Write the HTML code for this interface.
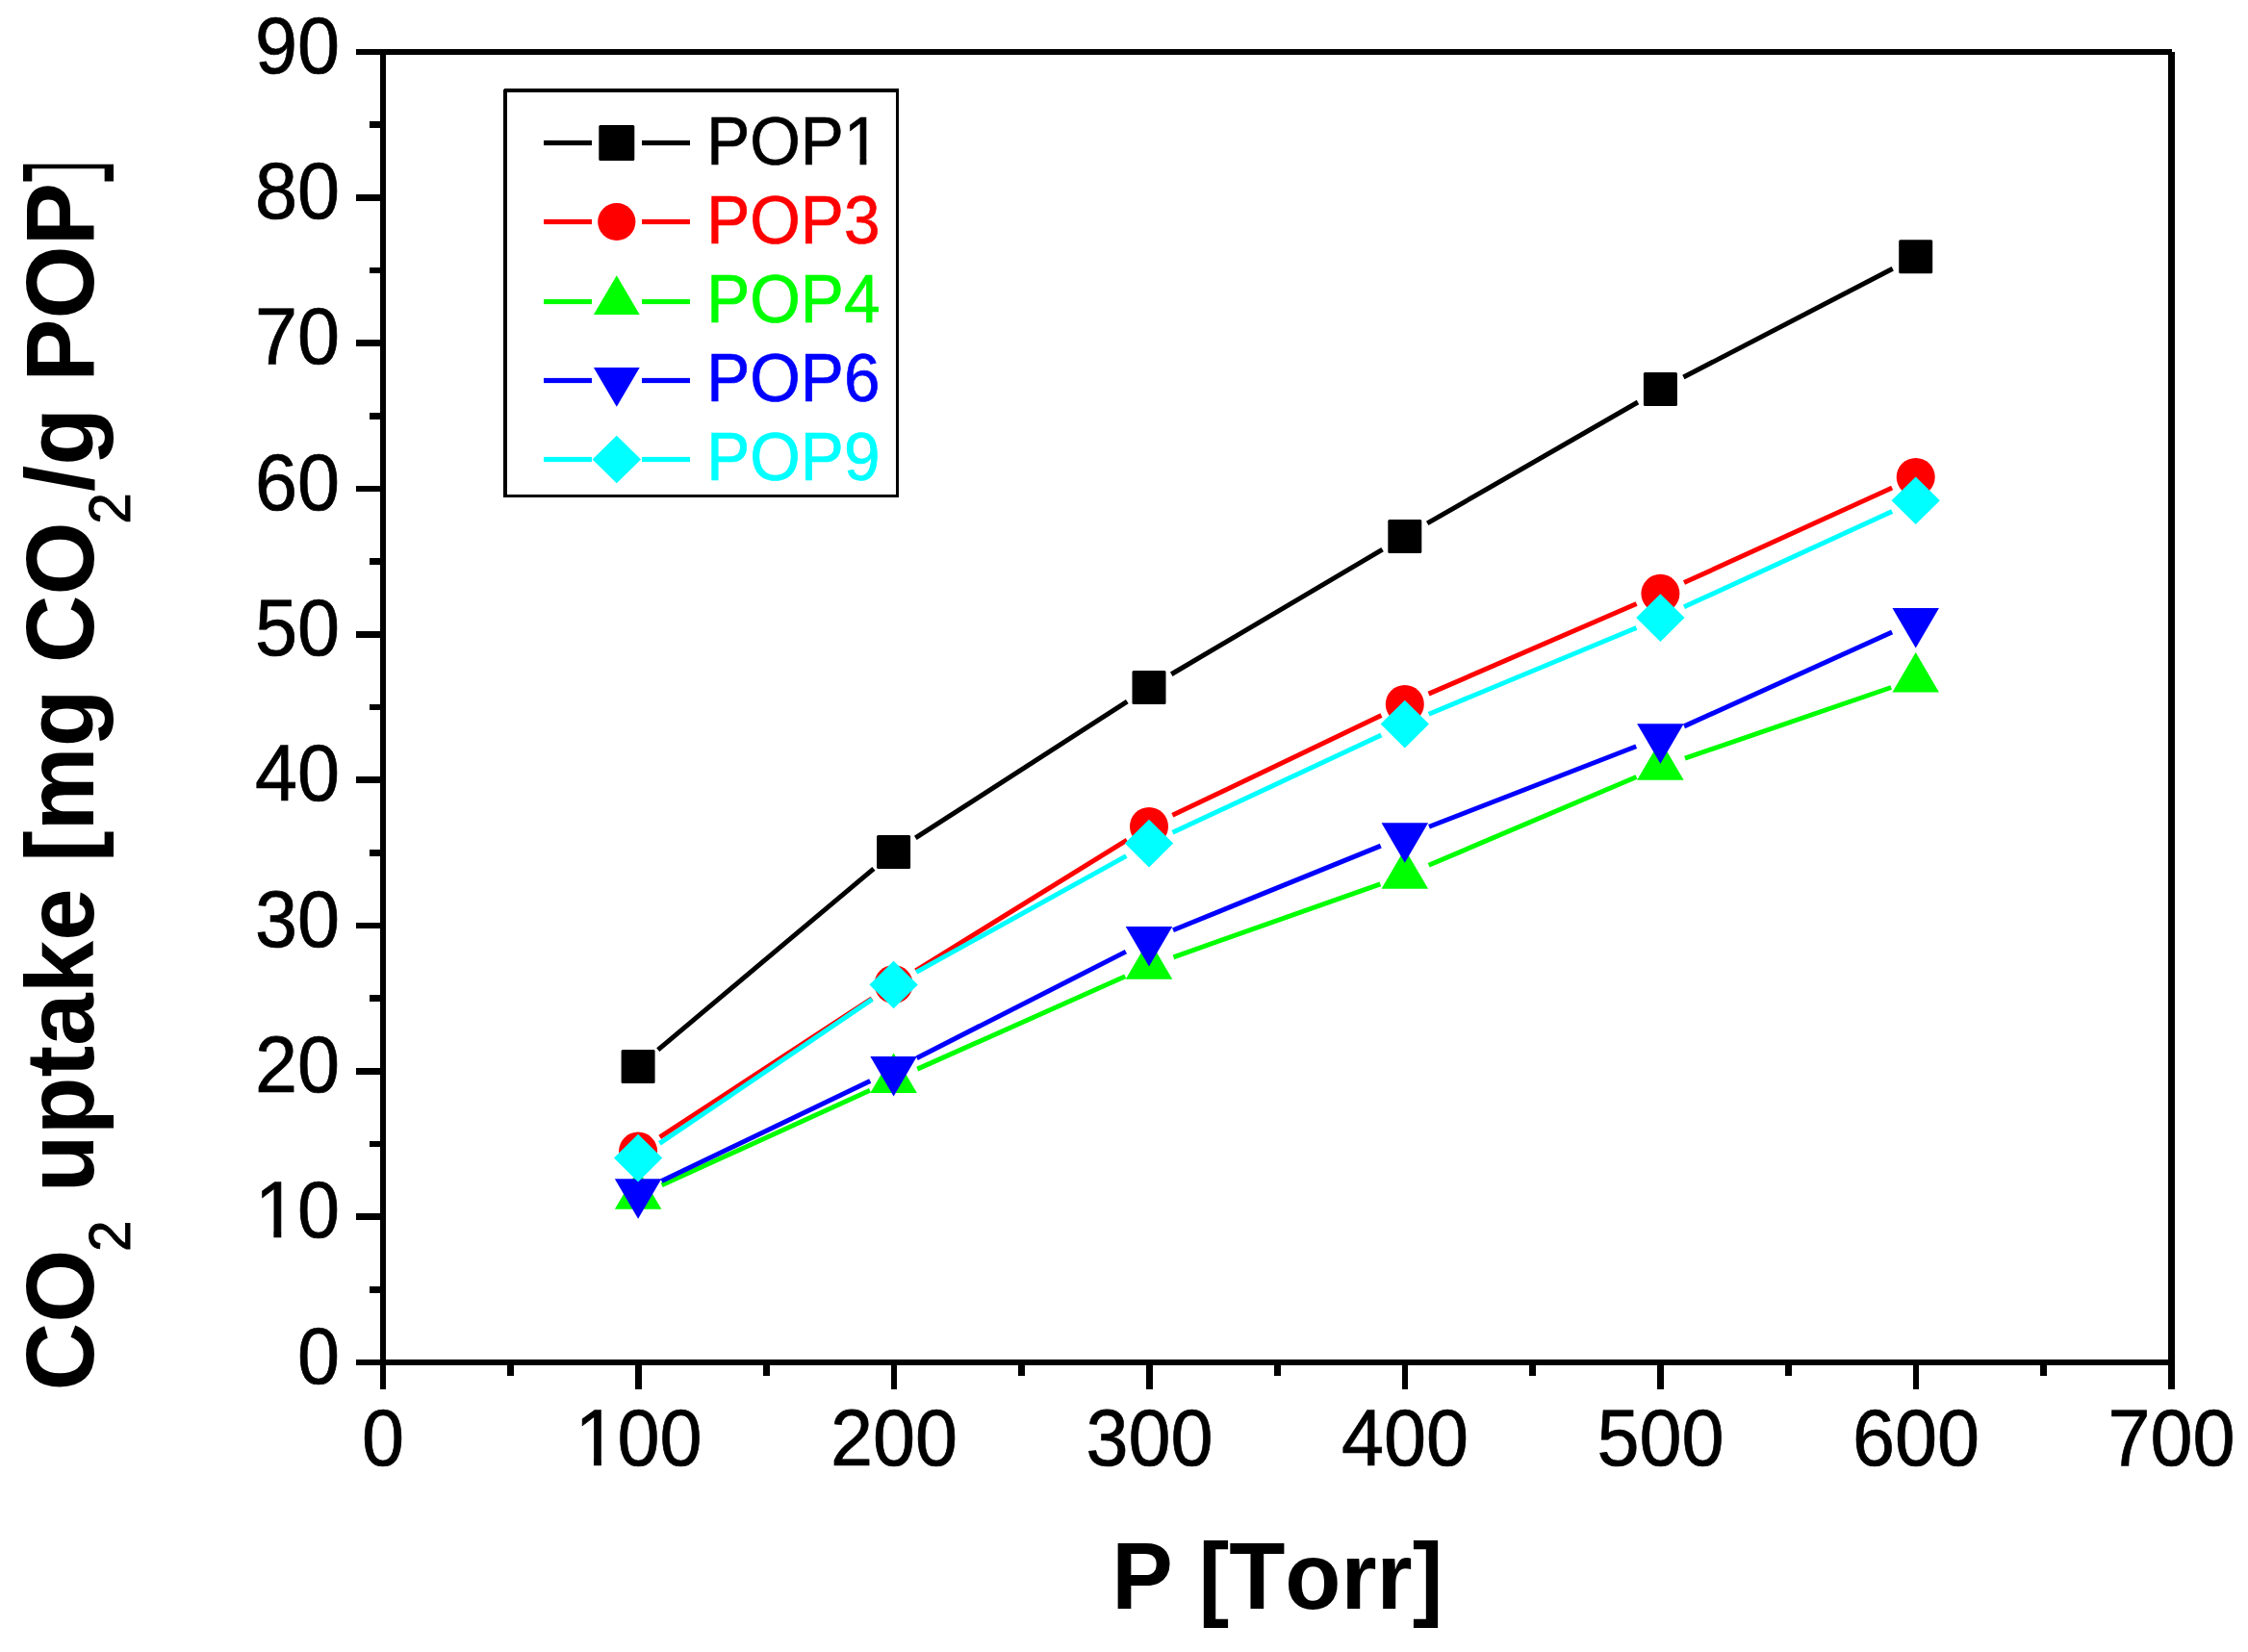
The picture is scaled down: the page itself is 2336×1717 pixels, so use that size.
<!DOCTYPE html>
<html lang="en"><head><meta charset="utf-8"><title>CO2 uptake vs P</title>
<style>
html,body{margin:0;padding:0;background:#fff;}
body{width:2336px;height:1717px;overflow:hidden;}
svg{display:block;}
text{font-family:"Liberation Sans",sans-serif;font-kerning:none;}
.tk{font-size:82.8px;fill:#000;stroke:#000;stroke-width:0.7px;}
.lg{font-size:69.8px;stroke-width:0.7px;}
.ttl{font-weight:bold;fill:#000;}
</style></head><body>
<svg width="2336" height="1717" viewBox="0 0 2336 1717">
<rect x="0" y="0" width="2336" height="1717" fill="#fff"/>
<g shape-rendering="crispEdges">
<rect x="395.10" y="54.00" width="6.00" height="1390.00" fill="#000"/>
<rect x="370.10" y="1413.00" width="1886.40" height="6.00" fill="#000"/>
<rect x="370.10" y="51.00" width="1886.80" height="6.00" fill="#000"/>
<rect x="2253.00" y="54.00" width="7.00" height="1390.00" fill="#000"/>
<rect x="384.10" y="1336.93" width="14.00" height="6.80" fill="#000"/>
<rect x="370.10" y="1261.27" width="28.00" height="6.80" fill="#000"/>
<rect x="384.10" y="1185.60" width="14.00" height="6.80" fill="#000"/>
<rect x="370.10" y="1109.93" width="28.00" height="6.80" fill="#000"/>
<rect x="384.10" y="1034.27" width="14.00" height="6.80" fill="#000"/>
<rect x="370.10" y="958.60" width="28.00" height="6.80" fill="#000"/>
<rect x="384.10" y="882.93" width="14.00" height="6.80" fill="#000"/>
<rect x="370.10" y="807.27" width="28.00" height="6.80" fill="#000"/>
<rect x="384.10" y="731.60" width="14.00" height="6.80" fill="#000"/>
<rect x="370.10" y="655.93" width="28.00" height="6.80" fill="#000"/>
<rect x="384.10" y="580.27" width="14.00" height="6.80" fill="#000"/>
<rect x="370.10" y="504.60" width="28.00" height="6.80" fill="#000"/>
<rect x="384.10" y="428.93" width="14.00" height="6.80" fill="#000"/>
<rect x="370.10" y="353.27" width="28.00" height="6.80" fill="#000"/>
<rect x="384.10" y="277.60" width="14.00" height="6.80" fill="#000"/>
<rect x="370.10" y="201.93" width="28.00" height="6.80" fill="#000"/>
<rect x="384.10" y="126.27" width="14.00" height="6.80" fill="#000"/>
<rect x="527.44" y="1416.00" width="6.80" height="14.00" fill="#000"/>
<rect x="660.19" y="1416.00" width="6.80" height="28.00" fill="#000"/>
<rect x="792.93" y="1416.00" width="6.80" height="14.00" fill="#000"/>
<rect x="925.67" y="1416.00" width="6.80" height="28.00" fill="#000"/>
<rect x="1058.41" y="1416.00" width="6.80" height="14.00" fill="#000"/>
<rect x="1191.16" y="1416.00" width="6.80" height="28.00" fill="#000"/>
<rect x="1323.90" y="1416.00" width="6.80" height="14.00" fill="#000"/>
<rect x="1456.64" y="1416.00" width="6.80" height="28.00" fill="#000"/>
<rect x="1589.39" y="1416.00" width="6.80" height="14.00" fill="#000"/>
<rect x="1722.13" y="1416.00" width="6.80" height="28.00" fill="#000"/>
<rect x="1854.87" y="1416.00" width="6.80" height="14.00" fill="#000"/>
<rect x="1987.61" y="1416.00" width="6.80" height="28.00" fill="#000"/>
<rect x="2120.36" y="1416.00" width="6.80" height="14.00" fill="#000"/>
</g>
<text class="tk" transform="translate(353.00 1437.60) scale(0.9565 1)" text-anchor="end">0</text>
<text class="tk" transform="translate(353.00 1286.27) scale(0.9565 1)" text-anchor="end">10</text>
<text class="tk" transform="translate(353.00 1134.93) scale(0.9565 1)" text-anchor="end">20</text>
<text class="tk" transform="translate(353.00 983.60) scale(0.9565 1)" text-anchor="end">30</text>
<text class="tk" transform="translate(353.00 832.27) scale(0.9565 1)" text-anchor="end">40</text>
<text class="tk" transform="translate(353.00 680.93) scale(0.9565 1)" text-anchor="end">50</text>
<text class="tk" transform="translate(353.00 529.60) scale(0.9565 1)" text-anchor="end">60</text>
<text class="tk" transform="translate(353.00 378.27) scale(0.9565 1)" text-anchor="end">70</text>
<text class="tk" transform="translate(353.00 226.93) scale(0.9565 1)" text-anchor="end">80</text>
<text class="tk" transform="translate(353.00 75.60) scale(0.9565 1)" text-anchor="end">90</text>
<rect x="269.74" y="1278.98" width="14.63" height="8.49" fill="#fff"/>
<rect x="292.27" y="1278.98" width="14.01" height="8.49" fill="#fff"/>
<text class="tk" transform="translate(398.10 1523.00) scale(0.9565 1)" text-anchor="middle">0</text>
<text class="tk" transform="translate(663.59 1523.00) scale(0.9565 1)" text-anchor="middle">100</text>
<text class="tk" transform="translate(929.07 1523.00) scale(0.9565 1)" text-anchor="middle">200</text>
<text class="tk" transform="translate(1194.56 1523.00) scale(0.9565 1)" text-anchor="middle">300</text>
<text class="tk" transform="translate(1460.04 1523.00) scale(0.9565 1)" text-anchor="middle">400</text>
<text class="tk" transform="translate(1725.53 1523.00) scale(0.9565 1)" text-anchor="middle">500</text>
<text class="tk" transform="translate(1991.01 1523.00) scale(0.9565 1)" text-anchor="middle">600</text>
<text class="tk" transform="translate(2256.50 1523.00) scale(0.9565 1)" text-anchor="middle">700</text>
<rect x="602.35" y="1515.71" width="14.63" height="8.49" fill="#fff"/>
<rect x="624.88" y="1515.71" width="14.01" height="8.49" fill="#fff"/>
<text class="ttl" transform="translate(1327.40 1671.80) scale(0.9626 1)" text-anchor="middle" font-size="99">P [Torr]</text>
<clipPath id="ytclip"><rect x="0" y="170.7" width="200" height="1400"/></clipPath>
<g clip-path="url(#ytclip)"><text class="ttl" transform="translate(96.80 1445.50) rotate(-90) scale(0.9703 1)" font-size="101" xml:space="preserve">CO<tspan font-weight="normal" font-size="60.5" dy="38" dx="-2.5" stroke="#000" stroke-width="0.9">2</tspan><tspan dy="-38" dx="2"> uptake [mg CO</tspan><tspan font-weight="normal" font-size="60.5" dy="38" dx="-2.5" stroke="#000" stroke-width="0.9">2</tspan><tspan dy="-38" dx="1">/g POP]</tspan></text></g>
<g>
<line x1="683.77" y1="1091.13" x2="907.93" y2="902.87" stroke="#000000" stroke-width="5"/>
<line x1="951.30" y1="870.88" x2="1171.30" y2="729.12" stroke="#000000" stroke-width="5"/>
<line x1="1217.24" y1="700.76" x2="1436.56" y2="571.14" stroke="#000000" stroke-width="5"/>
<line x1="1483.20" y1="543.93" x2="1702.00" y2="417.97" stroke="#000000" stroke-width="5"/>
<line x1="1749.36" y1="392.06" x2="1966.74" y2="279.24" stroke="#000000" stroke-width="5"/>
<rect x="645.60" y="1091.00" width="35.00" height="35.00" rx="1.5" fill="#000000"/>
<rect x="911.10" y="868.00" width="35.00" height="35.00" rx="1.5" fill="#000000"/>
<rect x="1176.50" y="697.00" width="35.00" height="35.00" rx="1.5" fill="#000000"/>
<rect x="1442.30" y="539.90" width="35.00" height="35.00" rx="1.5" fill="#000000"/>
<rect x="1707.90" y="387.00" width="35.00" height="35.00" rx="1.5" fill="#000000"/>
<rect x="1973.20" y="249.30" width="35.00" height="35.00" rx="1.5" fill="#000000"/>
</g>
<g>
<line x1="685.70" y1="1181.82" x2="906.00" y2="1037.78" stroke="#ff0000" stroke-width="5"/>
<line x1="951.57" y1="1008.81" x2="1171.03" y2="873.19" stroke="#ff0000" stroke-width="5"/>
<line x1="1218.36" y1="847.35" x2="1435.44" y2="743.55" stroke="#ff0000" stroke-width="5"/>
<line x1="1484.57" y1="721.16" x2="1700.63" y2="627.54" stroke="#ff0000" stroke-width="5"/>
<line x1="1749.97" y1="605.60" x2="1966.13" y2="507.10" stroke="#ff0000" stroke-width="5"/>
<circle cx="663.10" cy="1196.60" r="20.00" fill="#ff0000"/>
<circle cx="928.60" cy="1023.00" r="20.00" fill="#ff0000"/>
<circle cx="1194.00" cy="859.00" r="20.00" fill="#ff0000"/>
<circle cx="1459.80" cy="731.90" r="20.00" fill="#ff0000"/>
<circle cx="1725.40" cy="616.80" r="20.00" fill="#ff0000"/>
<circle cx="1990.70" cy="495.90" r="20.00" fill="#ff0000"/>
</g>
<g>
<line x1="687.67" y1="1231.81" x2="904.03" y2="1133.29" stroke="#00ff00" stroke-width="5"/>
<line x1="953.26" y1="1111.11" x2="1169.34" y2="1014.79" stroke="#00ff00" stroke-width="5"/>
<line x1="1219.46" y1="994.80" x2="1434.34" y2="918.80" stroke="#00ff00" stroke-width="5"/>
<line x1="1484.65" y1="899.25" x2="1700.55" y2="807.55" stroke="#00ff00" stroke-width="5"/>
<line x1="1750.93" y1="788.21" x2="1965.17" y2="714.49" stroke="#00ff00" stroke-width="5"/>
<polygon points="663.10,1215.33 687.35,1256.83 638.85,1256.83" fill="#00ff00"/>
<polygon points="928.60,1094.43 952.85,1135.93 904.35,1135.93" fill="#00ff00"/>
<polygon points="1194.00,976.13 1218.25,1017.63 1169.75,1017.63" fill="#00ff00"/>
<polygon points="1459.80,882.13 1484.05,923.63 1435.55,923.63" fill="#00ff00"/>
<polygon points="1725.40,769.33 1749.65,810.83 1701.15,810.83" fill="#00ff00"/>
<polygon points="1990.70,678.03 2014.95,719.53 1966.45,719.53" fill="#00ff00"/>
</g>
<g>
<line x1="687.45" y1="1227.43" x2="904.25" y2="1123.57" stroke="#0000ff" stroke-width="5"/>
<line x1="952.67" y1="1099.66" x2="1169.93" y2="989.14" stroke="#0000ff" stroke-width="5"/>
<line x1="1219.02" y1="966.74" x2="1434.78" y2="879.16" stroke="#0000ff" stroke-width="5"/>
<line x1="1484.97" y1="859.24" x2="1700.23" y2="775.76" stroke="#0000ff" stroke-width="5"/>
<line x1="1749.99" y1="754.86" x2="1966.11" y2="656.94" stroke="#0000ff" stroke-width="5"/>
<polygon points="663.10,1266.77 687.35,1225.27 638.85,1225.27" fill="#0000ff"/>
<polygon points="928.60,1139.57 952.85,1098.07 904.35,1098.07" fill="#0000ff"/>
<polygon points="1194.00,1004.57 1218.25,963.07 1169.75,963.07" fill="#0000ff"/>
<polygon points="1459.80,896.67 1484.05,855.17 1435.55,855.17" fill="#0000ff"/>
<polygon points="1725.40,793.67 1749.65,752.17 1701.15,752.17" fill="#0000ff"/>
<polygon points="1990.70,673.47 2014.95,631.97 1966.45,631.97" fill="#0000ff"/>
</g>
<g>
<line x1="685.44" y1="1188.44" x2="906.26" y2="1038.66" stroke="#00ffff" stroke-width="5"/>
<line x1="952.22" y1="1010.42" x2="1170.38" y2="889.68" stroke="#00ffff" stroke-width="5"/>
<line x1="1218.47" y1="865.19" x2="1435.33" y2="764.01" stroke="#00ffff" stroke-width="5"/>
<line x1="1484.73" y1="742.23" x2="1700.47" y2="652.47" stroke="#00ffff" stroke-width="5"/>
<line x1="1749.94" y1="630.83" x2="1966.16" y2="531.57" stroke="#00ffff" stroke-width="5"/>
<polygon points="663.10,1178.80 688.25,1203.60 663.10,1228.40 637.95,1203.60" fill="#00ffff"/>
<polygon points="928.60,998.70 953.75,1023.50 928.60,1048.30 903.45,1023.50" fill="#00ffff"/>
<polygon points="1194.00,851.80 1219.15,876.60 1194.00,901.40 1168.85,876.60" fill="#00ffff"/>
<polygon points="1459.80,727.80 1484.95,752.60 1459.80,777.40 1434.65,752.60" fill="#00ffff"/>
<polygon points="1725.40,617.30 1750.55,642.10 1725.40,666.90 1700.25,642.10" fill="#00ffff"/>
<polygon points="1990.70,495.50 2015.85,520.30 1990.70,545.10 1965.55,520.30" fill="#00ffff"/>
</g>
<g shape-rendering="crispEdges">
<rect x="524.00" y="92.00" width="410.00" height="4.00" fill="#000"/>
<rect x="523.00" y="93.00" width="4.00" height="424.00" fill="#000"/>
<rect x="931.00" y="92.00" width="3.00" height="425.00" fill="#000"/>
<rect x="523.00" y="514.00" width="411.00" height="3.00" fill="#000"/>
</g>
<rect x="565.00" y="145.90" width="50.00" height="5.20" fill="#000000"/>
<rect x="667.00" y="145.90" width="50.00" height="5.20" fill="#000000"/>
<rect x="622.30" y="130.00" width="37.00" height="37.00" rx="1.5" fill="#000000"/>
<text class="lg" transform="translate(734.20 170.90) scale(0.9685 1)" fill="#000000" stroke="#000000">POP1</text>
<rect x="565.00" y="227.90" width="50.00" height="5.20" fill="#ff0000"/>
<rect x="667.00" y="227.90" width="50.00" height="5.20" fill="#ff0000"/>
<circle cx="640.80" cy="230.50" r="19.60" fill="#ff0000"/>
<text class="lg" transform="translate(734.20 252.70) scale(0.9685 1)" fill="#ff0000" stroke="#ff0000">POP3</text>
<rect x="565.00" y="310.90" width="50.00" height="5.20" fill="#00ff00"/>
<rect x="667.00" y="310.90" width="50.00" height="5.20" fill="#00ff00"/>
<polygon points="640.80,286.30 664.70,327.10 616.90,327.10" fill="#00ff00"/>
<text class="lg" transform="translate(734.20 335.00) scale(0.9685 1)" fill="#00ff00" stroke="#00ff00">POP4</text>
<rect x="565.00" y="392.90" width="50.00" height="5.20" fill="#0000ff"/>
<rect x="667.00" y="392.90" width="50.00" height="5.20" fill="#0000ff"/>
<polygon points="640.80,422.70 664.70,381.90 616.90,381.90" fill="#0000ff"/>
<text class="lg" transform="translate(734.20 417.00) scale(0.9685 1)" fill="#0000ff" stroke="#0000ff">POP6</text>
<rect x="565.00" y="474.90" width="50.00" height="5.20" fill="#00ffff"/>
<rect x="667.00" y="474.90" width="50.00" height="5.20" fill="#00ffff"/>
<polygon points="640.80,452.85 666.05,477.60 640.80,502.35 615.55,477.60" fill="#00ffff"/>
<text class="lg" transform="translate(734.20 499.30) scale(0.9685 1)" fill="#00ffff" stroke="#00ffff">POP9</text>
<rect x="880.91" y="164.59" width="12.60" height="7.51" fill="#fff"/>
<rect x="900.39" y="164.59" width="12.07" height="7.51" fill="#fff"/>
</svg>
</body></html>
